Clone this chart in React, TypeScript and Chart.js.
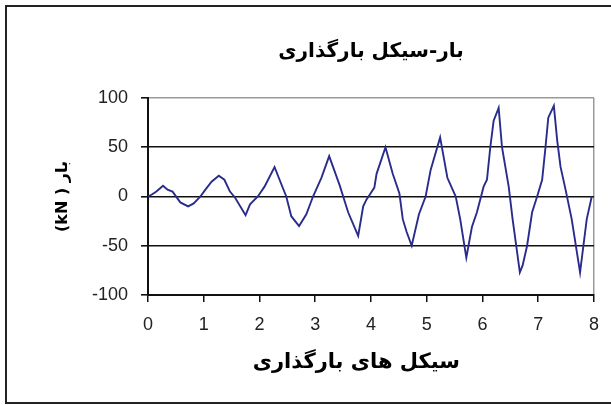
import React, { useEffect, useRef } from "react";
import { Chart, registerables } from "chart.js";

Chart.register(...registerables);

const chartTitle = "بار-سیکل بارگذاری";
const xTitle = "سیکل های بارگذاری\u00A0\u00A0\u00A0\u00A0";
const yTitle = "\u202Bبار ( kN)\u202C";

const cycles = [
  0.0, 0.07, 0.15, 0.27, 0.35, 0.44, 0.58, 0.72, 0.82, 0.94,
  1.03, 1.14, 1.27, 1.37, 1.47, 1.56, 1.75, 1.83, 1.97,
  2.09, 2.27, 2.36, 2.48, 2.57, 2.71, 2.84, 2.96,
  3.11, 3.25, 3.44, 3.59, 3.77, 3.86, 3.92, 3.98,
  4.06, 4.1, 4.26, 4.39, 4.51, 4.57, 4.64, 4.73, 4.86, 4.98,
  5.07, 5.24, 5.37, 5.52, 5.6, 5.71, 5.81, 5.9,
  6.02, 6.08, 6.14, 6.2, 6.29, 6.35, 6.41, 6.47, 6.54, 6.67, 6.72, 6.8, 6.89, 6.98,
  7.07, 7.13, 7.18, 7.28, 7.34, 7.4, 7.49, 7.6, 7.75, 7.81, 7.87, 7.96
];

const loads = [
  0, 2, 5, 11, 7, 5, -6, -10, -7, 0,
  7, 15, 21, 17, 5, -1, -19, -8, 0,
  10, 30, 17, 0, -20, -30, -18, 0,
  19, 41, 11, -16, -40, -10, -3, 2,
  9, 23, 50, 23, 3, -23, -36, -50, -18, 0,
  27, 60, 19, 0, -23, -62, -31, -16,
  10, 17, 50, 77, 90, 50, 30, 10, -23, -77, -70, -50, -16, 0,
  17, 50, 80, 92, 57, 30, 7, -23, -77, -50, -23, 0
];

const xTicks = [0, 1, 2, 3, 4, 5, 6, 7, 8];
const yTicks = [-100, -50, 0, 50, 100];

export default function App() {
  const canvasRef = useRef<HTMLCanvasElement | null>(null);

  useEffect(() => {
    const canvas = canvasRef.current;
    if (!canvas) return;
    const arabicFont = "'DejaVu Sans', sans-serif";
    const tickFont = "'Liberation Sans', Arial, sans-serif";
    const chart = new Chart(canvas, {
      type: "scatter",
      data: {
        datasets: [
          {
            data: cycles.map((c, i) => ({ x: c, y: loads[i] })),
            showLine: true,
            borderColor: "#2a2c8c",
            borderWidth: 1.9,
            pointRadius: 0,
            tension: 0,
          },
        ],
      },
      options: {
        animation: false,
        responsive: false,
        layout: { padding: { left: 0, right: 16, top: 0, bottom: 0 } },
        plugins: {
          legend: { display: false },
          tooltip: { enabled: false },
          title: {
            display: true,
            fullSize: false,
            text: chartTitle,
            color: "#000",
            font: { family: arabicFont, size: 20, weight: "bold" },
            padding: { top: 40, bottom: 34 },
          },
        },
        scales: {
          x: {
            type: "linear",
            min: xTicks[0],
            max: xTicks[xTicks.length - 1],
            afterBuildTicks: (scale: any) => {
              scale.ticks = xTicks.map((v) => ({ value: v }));
            },
            afterFit: (scale: any) => {
              scale.height = 110;
            },
            ticks: {
              color: "#222",
              font: { family: tickFont, size: 18 },
              padding: 12,
              maxRotation: 0,
            },
            grid: {
              drawOnChartArea: true,
              color: (ctx: any) =>
                ctx.tick && ctx.tick.value === 8 ? "#9a9a9a" : "rgba(0,0,0,0)",
              tickColor: "#111",
              tickLength: 7,
              lineWidth: 1.5,
            },
            border: { display: true, color: "#111", width: 2 },
            title: {
              display: true,
              text: xTitle,
              color: "#000",
              font: { family: arabicFont, size: 21, weight: "bold" },
              padding: { top: 0, bottom: 30 },
            },
          },
          y: {
            type: "linear",
            min: yTicks[0],
            max: yTicks[yTicks.length - 1],
            afterBuildTicks: (scale: any) => {
              scale.ticks = yTicks.map((v) => ({ value: v }));
            },
            afterFit: (scale: any) => {
              scale.width = 148;
            },
            ticks: {
              color: "#222",
              font: { family: tickFont, size: 18 },
              padding: 13,
            },
            grid: {
              color: (ctx: any) =>
                ctx.tick && ctx.tick.value === 100 ? "#9a9a9a" : "#111",
              tickColor: "#111",
              tickLength: 7,
              lineWidth: 1.6,
            },
            border: { display: true, color: "#111", width: 2 },
            title: {
              display: true,
              text: yTitle,
              color: "#000",
              font: { family: arabicFont, size: 16, weight: "bold" },
              padding: { top: 53, bottom: 0 },
            },
          },
        },
      },
    });
    return () => chart.destroy();
  }, []);

  return (
    <div
      style={{
        position: "fixed",
        left: 0,
        top: 0,
        width: 611,
        height: 405,
        overflow: "hidden",
        background: "#fff",
      }}
    >
      <canvas
        ref={canvasRef}
        width={611}
        height={405}
        style={{ position: "absolute", left: 0, top: 0, display: "block" }}
      />
      <div
        style={{
          position: "absolute",
          left: 5,
          top: 5,
          width: 700,
          height: 399,
          boxSizing: "border-box",
          border: "2px solid #222",
          pointerEvents: "none",
        }}
      />
    </div>
  );
}
